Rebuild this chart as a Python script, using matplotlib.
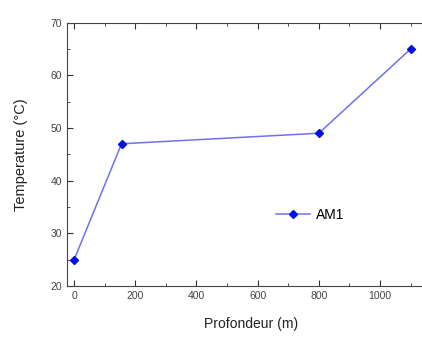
import matplotlib
matplotlib.use("Agg")
import matplotlib.pyplot as plt
from matplotlib.ticker import MultipleLocator

plt.rcParams['font.family'] = ['Liberation Sans', 'DejaVu Sans']

profondeur = [0, 155, 800, 1100]
temperature = [25, 47, 49, 65]
serie = "AM1"

fig = plt.figure(figsize=(4.22, 3.38), dpi=100)
ax = fig.add_axes([0.159, 0.154, 0.872, 0.779])

ax.plot(profondeur, temperature, color='#7070e8', lw=1.1, marker='D',
        ms=4.5, mfc='#0010e0', mec='#0010e0', label=serie)

ax.set_xlim(-23, 1180)
ax.set_ylim(20, 70)
ax.xaxis.set_major_locator(MultipleLocator(200))
ax.xaxis.set_minor_locator(MultipleLocator(100))
ax.yaxis.set_major_locator(MultipleLocator(10))
ax.yaxis.set_minor_locator(MultipleLocator(5))
ax.tick_params(which='both', direction='in', top=True, right=True,
               colors='#333333', labelcolor='#444444', labelsize=7.5)
ax.tick_params(which='major', length=4)
ax.tick_params(which='minor', length=2)
for s in ax.spines.values():
    s.set_color('#444444')

ax.set_xlabel('Profondeur (m)', fontsize=10, labelpad=12, color='#222222')
ax.set_ylabel('Temperature (°C)', fontsize=10.5, labelpad=16, color='#222222')

ax.legend(loc='center', bbox_to_anchor=(0.51, 0.22, 0.3, 0.1), frameon=False,
          fontsize=10, handlelength=2.5, handletextpad=0.4)

fig.savefig('out.png', dpi=100)
